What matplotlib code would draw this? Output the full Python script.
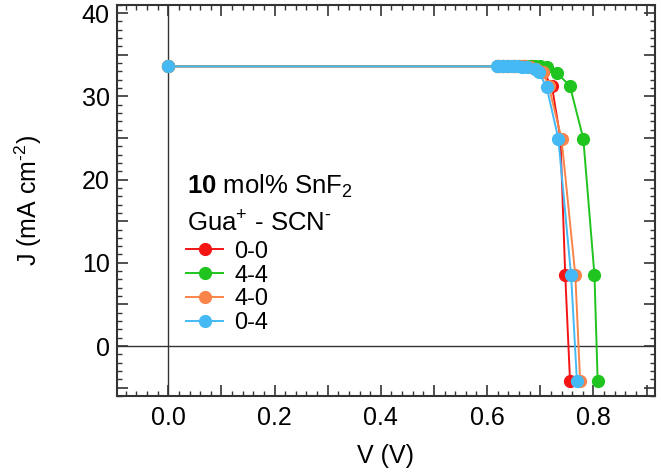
import matplotlib
matplotlib.use('Agg')
from matplotlib import pyplot as plt
from matplotlib.ticker import MultipleLocator, FuncFormatter

# J-V 曲线数据 (V in volts, J in mA cm^-2)
labels = ['0-0', '4-4', '4-0', '0-4']
colors = ['#f51414', '#1fc41f', '#f9844a', '#45b9f3']

v_00 = [0.0, 0.620, 0.630, 0.640, 0.650, 0.660, 0.670, 0.684, 0.697, 0.706, 0.722, 0.738, 0.747, 0.756]
j_00 = [33.6, 33.6, 33.6, 33.6, 33.6, 33.6, 33.6, 33.6, 33.5, 32.9, 31.2, 24.9, 8.5, -4.2]

v_44 = [0.0, 0.620, 0.630, 0.640, 0.650, 0.660, 0.670, 0.680, 0.690, 0.700, 0.712, 0.732, 0.756, 0.781, 0.802, 0.808]
j_44 = [33.6, 33.6, 33.6, 33.6, 33.6, 33.6, 33.6, 33.6, 33.6, 33.6, 33.5, 32.8, 31.2, 24.9, 8.5, -4.2]

v_40 = [0.0, 0.620, 0.630, 0.640, 0.650, 0.660, 0.670, 0.680, 0.692, 0.705, 0.716, 0.740, 0.766, 0.775]
j_40 = [33.6, 33.6, 33.6, 33.6, 33.6, 33.6, 33.6, 33.5, 33.3, 32.9, 31.2, 24.9, 8.5, -4.2]

v_04 = [0.0, 0.618, 0.628, 0.637, 0.647, 0.656, 0.666, 0.675, 0.690, 0.697, 0.712, 0.734, 0.758, 0.769]
j_04 = [33.6, 33.6, 33.6, 33.6, 33.6, 33.6, 33.5, 33.5, 33.3, 32.9, 31.1, 24.9, 8.5, -4.2]

v_list = [v_00, v_44, v_40, v_04]
j_list = [j_00, j_44, j_40, j_04]

plt.rcParams['font.family'] = ['Liberation Sans', 'DejaVu Sans']
plt.rcParams['mathtext.fontset'] = 'custom'
plt.rcParams['mathtext.rm'] = 'Liberation Sans'
plt.rcParams['mathtext.it'] = 'Liberation Sans:italic'
plt.rcParams['mathtext.bf'] = 'Liberation Sans:bold'

fig = plt.figure(figsize=(6.61, 4.72), dpi=100)
ax = fig.add_axes([0.1766, 0.161, 0.8144, 0.829])

# 零点参考线
ax.axhline(0, color='#333333', lw=1.0, zorder=1)
ax.axvline(0, color='#333333', lw=1.0, zorder=1)

for v, j, c, lab in zip(v_list, j_list, colors, labels):
    ax.plot(v, j, '-o', color=c, lw=1.4, markersize=8.5, label=lab, zorder=3)

ax.set_xlim(-0.097, 0.916)
ax.set_ylim(-6, 41)
ax.xaxis.set_major_locator(MultipleLocator(0.1))
ax.xaxis.set_minor_locator(MultipleLocator(0.02))
ax.yaxis.set_major_locator(MultipleLocator(5))
ax.yaxis.set_minor_locator(MultipleLocator(1))
# 只在0.2和10的倍数处标注
ax.xaxis.set_major_formatter(FuncFormatter(
    lambda x, p: '%.1f' % x if abs(round(x / 0.2) * 0.2 - x) < 1e-6 else ''))
ax.yaxis.set_major_formatter(FuncFormatter(
    lambda y, p: '%d' % y if abs(y) % 10 < 1e-6 else ''))

ax.tick_params(which='both', direction='in', top=True, right=True, colors='#333333',
               labelcolor='black', labelsize=18)
ax.tick_params(which='major', length=8, width=1.2)
ax.tick_params(which='minor', length=3.5, width=1.0)
ax.tick_params(axis='x', which='major', pad=7)
ax.tick_params(axis='y', which='major', pad=5)
for s in ax.spines.values():
    s.set_linewidth(1.5)
    s.set_color('#333333')

ax.set_xlabel('V (V)', fontsize=18, labelpad=10)
ax.set_ylabel(r'J (mA cm$^{\text{-}2}$)', fontsize=18, labelpad=27)

ax.text(0.130, 0.518, r'$\mathbf{10}$ mol% SnF$_2$', transform=ax.transAxes,
        fontsize=18.5, va='baseline', ha='left')
ax.text(0.130, 0.420, r'Gua$^{+}$ - SCN$^{\text{-}}$', transform=ax.transAxes,
        fontsize=18.5, va='baseline', ha='left')

ax.legend(loc='upper left', bbox_to_anchor=(0.128, 0.397), frameon=False,
          borderaxespad=0, borderpad=0, fontsize=17, handlelength=1.6,
          handletextpad=0.45, labelspacing=0.08)

plt.savefig('out.png', dpi=100)
